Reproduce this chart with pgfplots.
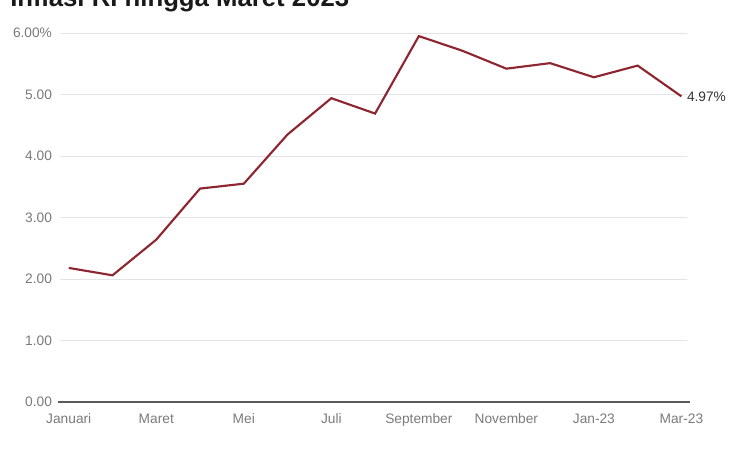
\documentclass[border=0pt]{standalone}
\usepackage{fontspec}
\setmainfont{Liberation Sans}
\usepackage{pgfplots}
\pgfplotsset{compat=1.18}
\definecolor{linered}{HTML}{8E2631}
\definecolor{ticktxt}{HTML}{7A7A7A}
\definecolor{gridc}{HTML}{E4E4E4}
\definecolor{basec}{HTML}{5A5A5A}

\begin{document}
\begin{tikzpicture}[x=0.75pt,y=0.75pt]
\useasboundingbox (0,0) rectangle (750,450);
\node[anchor=base west, font=\fontsize{19.3}{21}\selectfont\bfseries, text=black!90, inner sep=0]
  at (10,443) {Inflasi RI hingga Maret 2023};
\begin{axis}[
    at={(45pt,36pt)}, anchor=south west,
    scale only axis,
    width=470pt, height=276.75pt,
    xmin=-0.2, xmax=14.12,
    ymin=0, ymax=6,
    clip=false,
    axis line style={draw=none},
    major tick length=0pt,
    xtick={0,2,...,14},
    xticklabels={Januari,Maret,Mei,Juli,September,November,Jan-23,Mar-23},
    ytick={0,1,...,6},
    yticklabels={0.00,1.00,2.00,3.00,4.00,5.00,6.00\%},
    ymajorgrids,
    grid style={gridc, line width=0.6pt},
    tick label style={font=\fontsize{10.3}{12}\selectfont, text=ticktxt},
    /pgf/number format/assume math mode=true,
    xticklabel style={text height=1.6ex, text depth=0.4ex, yshift=-4pt},
    yticklabel style={xshift=-2.5pt},
]
\draw[basec, line width=1.4pt] (axis cs:-0.25,0) -- (axis cs:14.2,0);
\addplot[linered, line width=1.6pt, mark=none] coordinates {
    (0,2.18) (1,2.06) (2,2.64) (3,3.47) (4,3.55) (5,4.35) (6,4.94)
    (7,4.69) (8,5.95) (9,5.71) (10,5.42) (11,5.51) (12,5.28) (13,5.47)
    (14,4.97)
};
\node[anchor=west, font=\fontsize{10.3}{12}\selectfont, text=black!80, inner sep=0]
  at (axis cs:14,4.97) [xshift=4pt] {4.97\%};
\end{axis}
\end{tikzpicture}
\end{document}
